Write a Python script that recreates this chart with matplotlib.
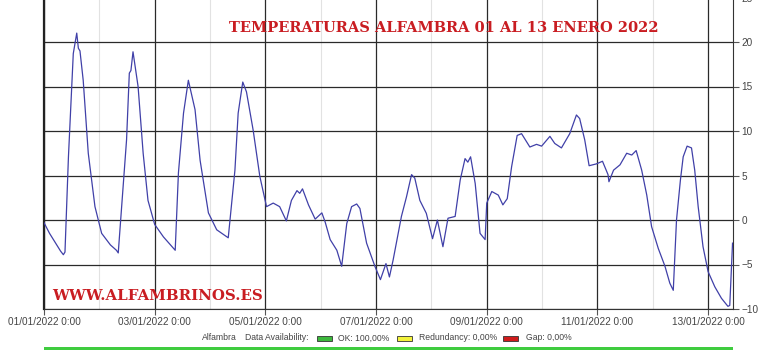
import numpy as np
import pandas as pd
import matplotlib
matplotlib.use('Agg')
import matplotlib.pyplot as plt
import matplotlib.dates as mdates
from matplotlib.ticker import FuncFormatter, MultipleLocator
from matplotlib.patches import Rectangle

# hours since 01/01/2022 0:00 and temperature (C)
hours = [0.0, 2.4, 4.8, 7.2, 8.4, 9.1, 10.6, 12.7, 14.2, 14.9, 15.6, 17.0, 19.2, 22.1,
         25.0, 28.8, 31.4, 32.2, 35.8, 37.0, 37.7, 38.6, 40.8, 43.0, 45.1,
         48.0, 51.8, 56.9, 58.3, 60.5, 62.6, 65.5, 67.7, 71.3,
         74.9, 79.9, 82.8, 84.2, 86.2, 87.8, 90.7, 93.6,
         96.5, 99.4, 102.2, 105.1, 107.3, 109.7, 110.9, 112.1, 114.7, 117.6,
         120.5, 121.9, 124.1, 127.0, 129.1, 131.3, 133.4, 135.6, 137.0, 139.9, 143.5,
         145.9, 148.3, 149.8, 151.4, 155.0, 157.2, 159.4, 160.8, 163.0, 165.8,
         168.5, 170.6, 173.0, 175.2, 178.3, 180.5, 182.6, 183.8, 185.0, 187.0, 189.1, 191.3,
         192.0, 194.2, 197.0, 199.0, 200.9, 202.8, 205.2, 207.1, 210.7, 213.6,
         215.8, 219.4, 221.5, 224.4, 228.0, 230.9, 232.3, 234.5, 236.4, 239.5,
         242.2, 244.6, 245.0, 247.0, 249.8, 252.7, 254.9, 256.8, 259.2, 261.4, 263.5,
         266.4, 269.3, 271.4, 272.9, 274.3, 276.0, 277.2, 278.9, 280.8, 282.2, 283.7, 285.8,
         288.0, 290.9, 293.8, 296.6, 297.4, 298.6]
temps = [-0.3, -1.5, -2.5, -3.5, -3.9, -3.6, 7.1, 18.7, 21.0, 19.3, 19.0, 15.7, 7.5, 1.5,
         -1.5, -2.8, -3.4, -3.7, 9.0, 16.5, 16.8, 18.9, 15.0, 7.5, 2.2,
         -0.5, -1.9, -3.4, 5.3, 12.0, 15.7, 12.4, 6.7, 0.8,
         -1.1, -2.0, 5.6, 12.0, 15.5, 14.4, 10.1, 4.9,
         1.5, 1.9, 1.5, -0.1, 2.2, 3.3, 3.0, 3.5, 1.7, 0.1,
         0.8, -0.2, -2.2, -3.4, -5.2, -0.4, 1.5, 1.8, 1.3, -2.6, -5.2,
         -6.7, -4.9, -6.4, -4.5, 0.4, 2.6, 5.1, 4.7, 2.2, 0.75,
         -2.1, 0.0, -3.0, 0.2, 0.4, 4.5, 6.9, 6.5, 7.1, 4.1, -1.5, -2.2,
         1.9, 3.2, 2.8, 1.7, 2.4, 6.0, 9.5, 9.7, 8.2, 8.5,
         8.3, 9.4, 8.6, 8.1, 9.7, 11.8, 11.4, 9.0, 6.1, 6.3,
         6.6, 5.1, 4.3, 5.6, 6.2, 7.5, 7.3, 7.8, 5.6, 2.8, -0.75,
         -3.2, -5.2, -7.1, -7.9, 0.0, 4.5, 7.1, 8.3, 8.1, 5.6, 1.5, -3.0,
         -5.8, -7.5, -8.8, -9.7, -9.6, -2.6]

title = "TEMPERATURAS ALFAMBRA 01 AL 13 ENERO 2022"
website = "WWW.ALFAMBRINOS.ES"
station = "Alfambra"
avail_labels = ["OK: 100,00%", "Redundancy: 0,00%", "Gap: 0,00%"]
avail_colors = ["#3cb83c", "#f2f23a", "#d01c1c"]

start = pd.Timestamp("2022-01-01")
times = start + pd.to_timedelta(hours, unit="h")

W, H = 780, 350
fig = plt.figure(figsize=(7.8, 3.5), dpi=100)
plt.rcParams['font.family'] = ['Liberation Sans', 'DejaVu Sans']

# plot area runs a little past the top edge, like the cropped original
ax = fig.add_axes([44 / W, (H - 309) / H, (733 - 44) / W, (309 + 2.5) / H])
ax.plot(times, temps, color="#4040a8", lw=0.9, zorder=3)

ax.set_ylim(-10, 25)
ax.set_xlim(start, start + pd.Timedelta(hours=298.8))

ax.yaxis.tick_right()
ax.yaxis.set_major_locator(MultipleLocator(5))
ax.xaxis.set_major_locator(mdates.DayLocator(bymonthday=[1, 3, 5, 7, 9, 11, 13]))
ax.xaxis.set_minor_locator(mdates.DayLocator(bymonthday=[2, 4, 6, 8, 10, 12]))


def fmt_date(x, pos):
    d = mdates.num2date(x)
    return f"{d.day:02d}/{d.month:02d}/{d.year} {d.hour}:{d.minute:02d}"


ax.xaxis.set_major_formatter(FuncFormatter(fmt_date))
ax.tick_params(axis='both', which='major', labelsize=7.2, labelcolor="#444444",
               color="#555555", length=4, width=0.8, pad=2)
ax.tick_params(axis='x', which='minor', length=0)

ax.grid(True, which='major', color="#2a2a2a", lw=0.9, zorder=1)
ax.grid(True, which='minor', axis='x', color="#e2e2e2", lw=0.8, zorder=1)

ax.spines['top'].set_visible(False)
ax.spines['left'].set_linewidth(1.6)
ax.spines['left'].set_color("#222222")
ax.spines['right'].set_color("#333333")
ax.spines['bottom'].set_color("#333333")

fig.text(444 / W, 1 - 28 / H, title, color="#c91d22", fontsize=10.5, fontweight='bold',
         family='DejaVu Serif', ha='center', va='center')
fig.text(52 / W, 1 - 296 / H, website, color="#c91d22", fontsize=10.8, fontweight='bold',
         family='DejaVu Serif', ha='left', va='center')

# availability legend at the bottom
ly = 1 - 338 / H
fig.text(202 / W, ly, station, fontsize=6.2, color="#444444", va='center')
fig.text(245 / W, ly, "Data Availability:", fontsize=6.2, color="#444444", va='center')
box_x = [317, 397, 503]
text_x = [338, 419, 526]
for bx, tx, lab, col in zip(box_x, text_x, avail_labels, avail_colors):
    fig.patches.append(Rectangle((bx / W, 1 - 340.5 / H), 15 / W, 5 / H,
                                 transform=fig.transFigure, facecolor=col,
                                 edgecolor="#333333", lw=0.6))
    fig.text(tx / W, ly, lab, fontsize=6.2, color="#444444", va='center')

fig.patches.append(Rectangle((44 / W, 0), (733 - 44) / W, 3.5 / H,
                             transform=fig.transFigure, facecolor="#3fcc3f", edgecolor='none'))

fig.savefig("out.png", dpi=100)
